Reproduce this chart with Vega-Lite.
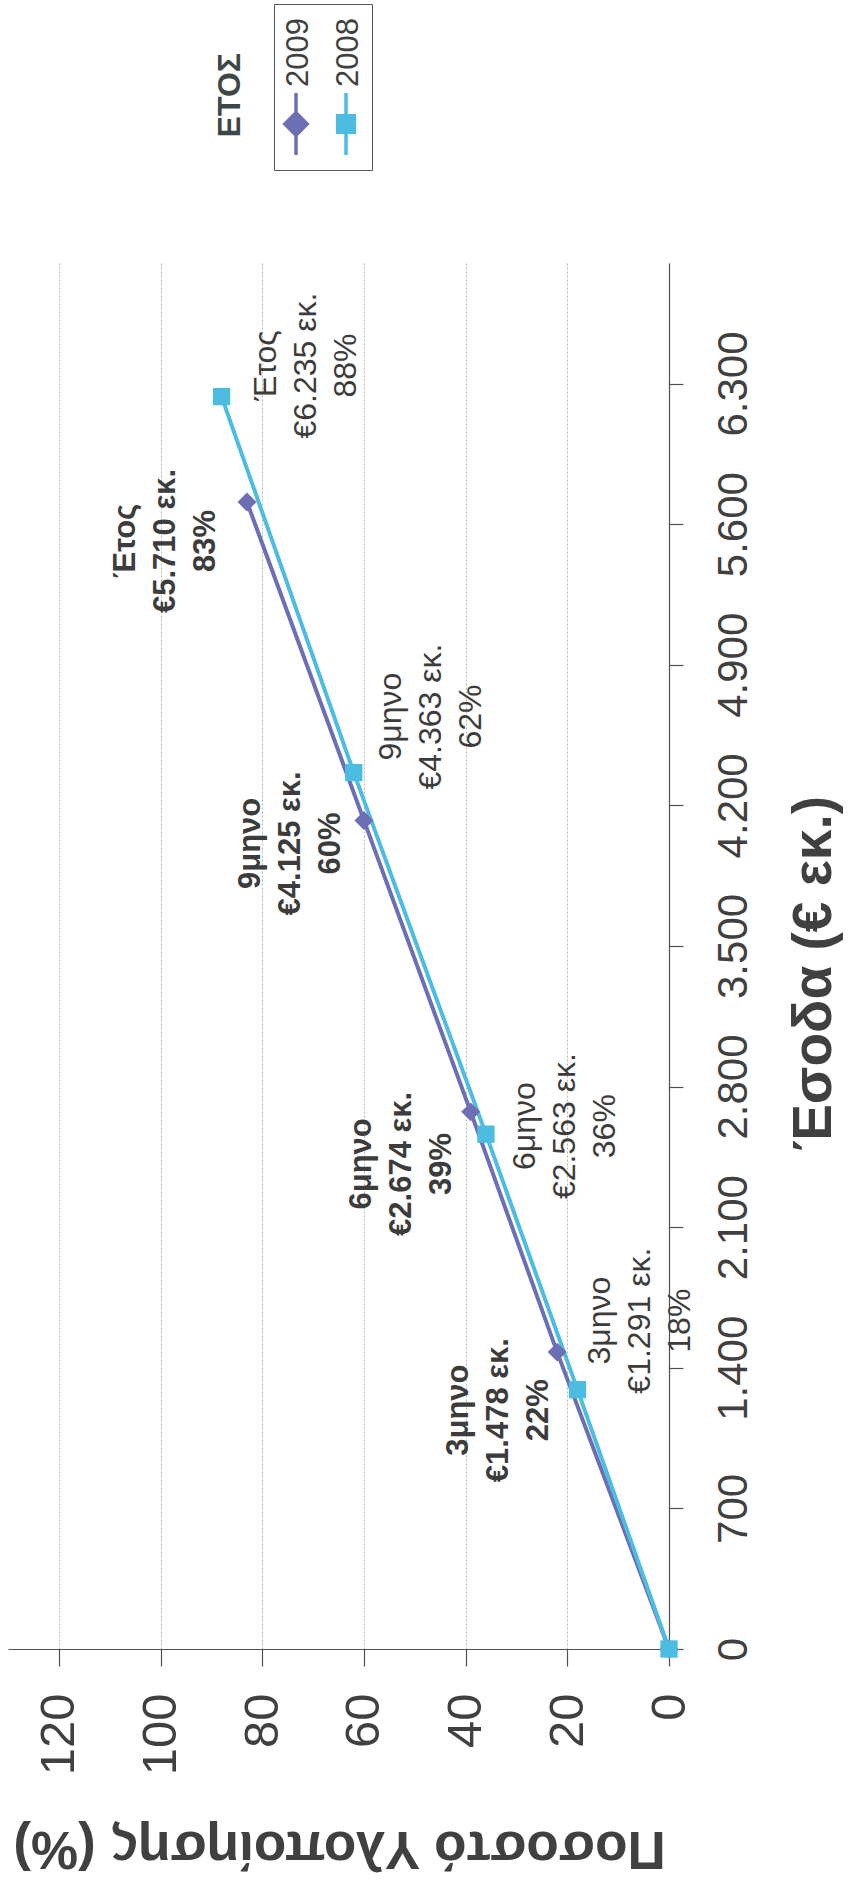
{
  "$schema": "https://vega.github.io/schema/vega-lite/v6.json",
  "width": 661,
  "height": 1386,
  "autosize": "none",
  "padding": {"left": 8, "top": 263, "right": 179, "bottom": 232},
  "background": "white",
  "config": {"font": "Liberation Sans", "view": {"stroke": null}},
  "title": {
    "text": "ΕΤΟΣ",
    "orient": "left",
    "anchor": "end",
    "frame": "group",
    "offset": -271,
    "dx": 210,
    "angle": 270,
    "align": "right",
    "baseline": "bottom",
    "fontSize": 32,
    "fontWeight": "bold",
    "color": "#3d4745",
    "font": "Liberation Sans"
  },
  "data": {
    "values": [
      {"year": "2009", "period": "0", "rev": 0, "pct": 0, "label": ""},
      {"year": "2009", "period": "3μηνο", "rev": 1478, "pct": 22, "label": "3μηνο\n€1.478 εκ.\n22%"},
      {"year": "2009", "period": "6μηνο", "rev": 2674, "pct": 39, "label": "6μηνο\n€2.674 εκ.\n39%"},
      {"year": "2009", "period": "9μηνο", "rev": 4125, "pct": 60, "label": "9μηνο\n€4.125 εκ.\n60%"},
      {"year": "2009", "period": "Έτος", "rev": 5710, "pct": 83, "label": "Έτος\n€5.710 εκ.\n83%"},
      {"year": "2008", "period": "0", "rev": 0, "pct": 0, "label": ""},
      {"year": "2008", "period": "3μηνο", "rev": 1291, "pct": 18, "label": "3μηνο\n€1.291 εκ.\n18%"},
      {"year": "2008", "period": "6μηνο", "rev": 2563, "pct": 36, "label": "6μηνο\n€2.563 εκ.\n36%"},
      {"year": "2008", "period": "9μηνο", "rev": 4363, "pct": 62, "label": "9μηνο\n€4.363 εκ.\n62%"},
      {"year": "2008", "period": "Έτος", "rev": 6235, "pct": 88, "label": "Έτος\n€6.235 εκ.\n88%"}
    ]
  },
  "encoding": {
    "x": {
      "field": "pct",
      "type": "quantitative",
      "scale": {"domain": [0, 130], "reverse": true, "nice": false, "zero": true},
      "axis": {
        "orient": "bottom",
        "values": [0, 20, 40, 60, 80, 100, 120],
        "grid": true,
        "gridColor": "#b3b3b3",
        "gridDash": [2, 2],
        "gridWidth": 1,
        "domainColor": "#505050",
        "domainWidth": 1.2,
        "tickColor": "#505050",
        "tickWidth": 1.2,
        "tickSize": 17,
        "labelAngle": 270,
        "labelAlign": "right",
        "labelBaseline": "middle",
        "labelPadding": 27,
        "labelFontSize": 49,
        "labelColor": "#404040",
        "labelFlush": false,
        "labelOverlap": false,
        "title": "Ποσοστό Υλοποίησης (%)",
        "titleAngle": 180,
        "titleAlign": "center",
        "titleBaseline": "bottom",
        "titleX": 331,
        "titleY": 171,
        "titleFontSize": 53,
        "titleFontWeight": "bold",
        "titleColor": "#404040"
      }
    },
    "y": {
      "field": "rev",
      "type": "quantitative",
      "scale": {"domain": [0, 6900], "nice": false},
      "axis": {
        "orient": "right",
        "values": [0, 700, 1400, 2100, 2800, 3500, 4200, 4900, 5600, 6300],
        "labelExpr": "replace(format(datum.value, ','), ',', '.')",
        "grid": false,
        "domainColor": "#505050",
        "domainWidth": 1.2,
        "tickColor": "#505050",
        "tickWidth": 1.2,
        "tickSize": 14,
        "labelAngle": 270,
        "labelAlign": "center",
        "labelBaseline": "top",
        "labelPadding": 30,
        "labelFontSize": 42,
        "labelColor": "#404040",
        "labelFlush": false,
        "labelOverlap": false,
        "title": "Έσοδα (€ εκ.)",
        "titleAngle": 270,
        "titleAlign": "center",
        "titleBaseline": "top",
        "titleX": 118,
        "titleY": 710,
        "titleFontSize": 55,
        "titleFontWeight": "bold",
        "titleColor": "#404040"
      }
    }
  },
  "layer": [
    {
      "mark": {"type": "line", "strokeWidth": 4},
      "encoding": {
        "detail": {"field": "year", "type": "nominal"},
        "color": {"condition": {"test": "datum.year == '2009'", "value": "#6c6fb4"}, "value": "#4cbde0"},
        "order": {"field": "rev", "type": "quantitative"}
      }
    },
    {
      "mark": {"type": "point", "filled": true, "opacity": 1},
      "encoding": {
        "color": {
          "field": "year",
          "type": "nominal",
          "scale": {"domain": ["2009", "2008"], "range": ["#6c6fb4", "#4cbde0"]},
          "legend": {
            "orient": "none",
            "legendX": 266,
            "legendY": -259,
            "direction": "horizontal",
            "title": null,
            "strokeColor": "#555555",
            "padding": 8,
            "columnPadding": 15,
            "labelFontSize": 31,
            "labelColor": "#404040",
            "labelFont": "Liberation Sans",
            "encoding": {
              "symbols": {
                "x": {"value": 14},
                "y": {"value": 112},
                "size": {"value": 3844},
                "shape": {"condition": {"test": "datum.value == '2009'", "value": "M0,-1L0,1M-0.36,0L0,-0.36L0.36,0L0,0.36Z"}, "value": "M0,-1L0,1M-0.27,-0.27L0.27,-0.27L0.27,0.27L-0.27,0.27Z"},
                "fill": {"condition": {"test": "datum.value == '2009'", "value": "#6c6fb4"}, "value": "#4cbde0"},
                "stroke": {"condition": {"test": "datum.value == '2009'", "value": "#6c6fb4"}, "value": "#4cbde0"},
                "strokeWidth": {"value": 3.5},
                "opacity": {"value": 1}
              },
              "labels": {
                "x": {"value": 17},
                "y": {"value": 75},
                "angle": {"value": 270},
                "align": {"value": "left"},
                "baseline": {"value": "middle"}
              }
            }
          }
        },
        "shape": {"condition": {"test": "datum.year == '2009'", "value": "diamond"}, "value": "square"},
        "size": {"condition": {"test": "datum.year == '2009'", "value": 360}, "value": 300}
      }
    },
    {
      "transform": [{"filter": "datum.year == '2009' && datum.period == '3μηνο'"}],
      "mark": {"type": "text", "lineBreak": "\n", "angle": 270, "align": "center", "baseline": "middle", "fontSize": 31, "fontWeight": "bold", "lineHeight": 40, "color": "#3c3c3c", "xOffset": -98, "yOffset": 58},
      "encoding": {"text": {"field": "label"}}
    },
    {
      "transform": [{"filter": "datum.year == '2009' && datum.period == '6μηνο'"}],
      "mark": {"type": "text", "lineBreak": "\n", "angle": 270, "align": "center", "baseline": "middle", "fontSize": 31, "fontWeight": "bold", "lineHeight": 40, "color": "#3c3c3c", "xOffset": -109, "yOffset": 52},
      "encoding": {"text": {"field": "label"}}
    },
    {
      "transform": [{"filter": "datum.year == '2009' && datum.period == '9μηνο'"}],
      "mark": {"type": "text", "lineBreak": "\n", "angle": 270, "align": "center", "baseline": "middle", "fontSize": 31, "fontWeight": "bold", "lineHeight": 40, "color": "#3c3c3c", "xOffset": -113, "yOffset": 23},
      "encoding": {"text": {"field": "label"}}
    },
    {
      "transform": [{"filter": "datum.year == '2009' && datum.period == 'Έτος'"}],
      "mark": {"type": "text", "lineBreak": "\n", "angle": 270, "align": "center", "baseline": "middle", "fontSize": 31, "fontWeight": "bold", "lineHeight": 40, "color": "#3c3c3c", "xOffset": -121, "yOffset": 39},
      "encoding": {"text": {"field": "label"}}
    },
    {
      "transform": [{"filter": "datum.year == '2008' && datum.period == '3μηνο'"}],
      "mark": {"type": "text", "lineBreak": "\n", "angle": 270, "align": "center", "baseline": "middle", "fontSize": 32, "lineHeight": 40, "color": "#3c3c3c", "xOffset": 23, "yOffset": -69},
      "encoding": {"text": {"field": "label"}}
    },
    {
      "transform": [{"filter": "datum.year == '2008' && datum.period == '6μηνο'"}],
      "mark": {"type": "text", "lineBreak": "\n", "angle": 270, "align": "center", "baseline": "middle", "fontSize": 32, "lineHeight": 40, "color": "#3c3c3c", "xOffset": 39, "yOffset": -8},
      "encoding": {"text": {"field": "label"}}
    },
    {
      "transform": [{"filter": "datum.year == '2008' && datum.period == '9μηνο'"}],
      "mark": {"type": "text", "lineBreak": "\n", "angle": 270, "align": "center", "baseline": "middle", "fontSize": 32, "lineHeight": 40, "color": "#3c3c3c", "xOffset": 37, "yOffset": -56},
      "encoding": {"text": {"field": "label"}}
    },
    {
      "transform": [{"filter": "datum.year == '2008' && datum.period == 'Έτος'"}],
      "mark": {"type": "text", "lineBreak": "\n", "angle": 270, "align": "center", "baseline": "middle", "fontSize": 32, "lineHeight": 40, "color": "#3c3c3c", "xOffset": 44, "yOffset": -31},
      "encoding": {"text": {"field": "label"}}
    }
  ]
}
